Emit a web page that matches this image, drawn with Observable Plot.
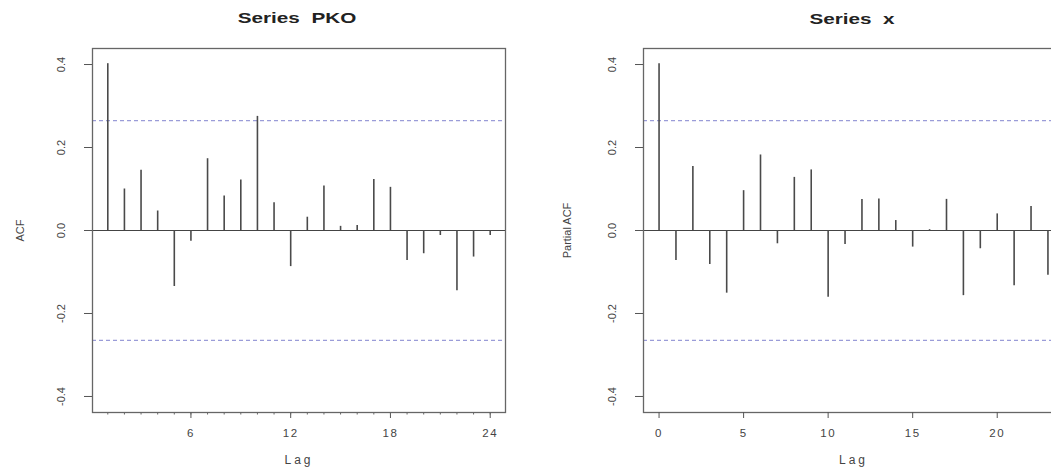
<!DOCTYPE html>
<html>
<head>
<meta charset="utf-8">
<script src="https://cdn.jsdelivr.net/npm/d3@7"></script>
<script src="https://cdn.jsdelivr.net/npm/@observablehq/plot@0.6"></script>
<style>
  html, body { margin: 0; padding: 0; background: #fff; }
  #wrap { position: relative; width: 1051px; height: 467px; overflow: hidden; background: #fff; font-family: "Liberation Sans", Arial, sans-serif; }
  .panel { position: absolute; top: 0; height: 467px; }
  .panel svg { max-width: none !important; }
  .title { position: absolute; font-weight: bold; font-size: 15px; color: #222; white-space: pre; transform: translate(-50%, -50%) scaleX(1.38); line-height: 1; }
  svg g[aria-label="x-axis tick label"] text { letter-spacing: 1.5px; }
  svg .xtitle text { letter-spacing: 3px; }
</style>
</head>
<body>
<div id="wrap">
  <div id="left" class="panel" style="left:0px; width:530px"></div>
  <div id="right" class="panel" style="left:530px; width:557px"></div>
  <div class="title" style="left:297px; top:17px">Series  PKO</div>
  <div class="title" style="left:852px; top:18px">Series  x</div>
</div>
<script>
// ---- data ----
const lagsPKO = [1, 2, 3, 4, 5, 6, 7, 8, 9, 10, 11, 12, 13, 14, 15, 16, 17, 18, 19, 20, 21, 22, 23, 24];
const acfPKO = [0.402, 0.100, 0.145, 0.047, -0.135, -0.026, 0.173, 0.083, 0.122, 0.275, 0.067, -0.087,
                0.032, 0.107, 0.010, 0.012, 0.123, 0.104, -0.072, -0.056, -0.012, -0.145, -0.064, -0.012];
const lagsX = [0, 1, 2, 3, 4, 5, 6, 7, 8, 9, 10, 11, 12, 13, 14, 15, 16, 17, 18, 19, 20, 21, 22, 23];
const pacfX = [0.402, -0.072, 0.154, -0.082, -0.151, 0.096, 0.182, -0.032, 0.128, 0.146, -0.161, -0.034,
               0.075, 0.076, 0.024, -0.040, 0.002, 0.075, -0.157, -0.044, 0.040, -0.133, 0.058, -0.108];
const ciBounds = [0.265, -0.265];
const yTicks = [-0.4, -0.2, 0.0, 0.2, 0.4];
const xTicksPKO = [6, 12, 18, 24];
const xTicksX = [0, 5, 10, 15, 20];

const font = "'Liberation Sans', Arial, sans-serif";
const yDomain = [-0.4386, 0.4386];

function panel({lags, values, xDomain, majorTicks, minorTicks, yLabel, yLabelDx, width, marginLeft, marginRight}) {
  const data = lags.map((l, i) => ({lag: l, v: values[i]}));
  const marks = [
    Plot.ruleY(ciBounds, {stroke: "#9a9cd8", strokeWidth: 1.2, strokeDasharray: "4,3"}),
    Plot.ruleY([0], {stroke: "#444", strokeWidth: 1}),
    Plot.ruleX(data, {x: "lag", y1: 0, y2: "v", stroke: "#4a4a4a", strokeWidth: 1.6}),
    Plot.frame({stroke: "#666", strokeWidth: 1.3}),
    Plot.axisY(yTicks, {
      tickSize: 8, tickRotate: -90, tickPadding: 20,
      tickFormat: d => d.toFixed(1), fontSize: 11, fill: "#444", stroke: "#555",
      label: null
    }),
    Plot.axisX(majorTicks, {
      tickSize: 6, tickPadding: 10, tickFormat: d => String(d), fontSize: 11.5,
      fill: "#444", stroke: "#555", label: null
    }),
    Plot.text([yLabel], {
      text: d => d, frameAnchor: "left", dx: yLabelDx, rotate: -90,
      textAnchor: "middle", lineAnchor: "middle", fontSize: 11, fill: "#444"
    }),
    Plot.text(["Lag"], {
      text: d => d, frameAnchor: "bottom", dy: 48, textAnchor: "middle",
      lineAnchor: "middle", fontSize: 12, fill: "#444", className: "xtitle"
    })
  ];
  if (minorTicks) {
    marks.push(Plot.axisX(minorTicks, {tickSize: 2.5, tickFormat: () => "", stroke: "#666", label: null}));
  }
  return Plot.plot({
    width, height: 467,
    marginLeft, marginRight, marginTop: 48, marginBottom: 55,
    style: {fontFamily: font, fontSize: "11px", color: "#444", background: "transparent", maxWidth: "none"},
    x: {domain: xDomain},
    y: {domain: yDomain},
    marks
  });
}

document.getElementById("left").append(panel({
  lags: lagsPKO, values: acfPKO, xDomain: [0.08, 24.92],
  majorTicks: xTicksPKO, minorTicks: lagsPKO, yLabel: "ACF", yLabelDx: -72,
  width: 530, marginLeft: 92, marginRight: 25
}));
document.getElementById("right").append(panel({
  lags: lagsX, values: pacfX, xDomain: [-0.92, 23.92],
  majorTicks: xTicksX, minorTicks: null, yLabel: "Partial ACF", yLabelDx: -76,
  width: 557, marginLeft: 113, marginRight: 24
}));
</script>
</body>
</html>
